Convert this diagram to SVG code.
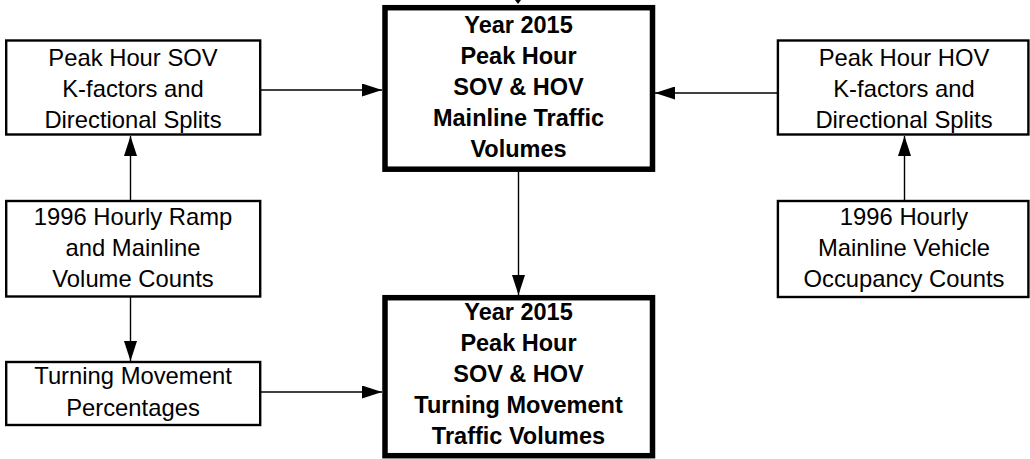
<svg xmlns="http://www.w3.org/2000/svg" width="1030" height="459" viewBox="0 0 1030 459">
<style>
.box{fill:#fff;stroke:#000;stroke-width:2.4}
.main{fill:#fff;stroke:#000;stroke-width:5.5}
.t{font-family:"Liberation Sans",Arial,sans-serif;font-size:23.8px;fill:#000;text-anchor:middle}
.b{font-family:"Liberation Sans",Arial,sans-serif;font-size:23.5px;font-weight:bold;fill:#000;text-anchor:middle}
.c{stroke:#000;stroke-width:1.4;fill:none}
</style>
<defs>
<marker id="ah" markerWidth="20" markerHeight="13" refX="20" refY="6.5" orient="auto" markerUnits="userSpaceOnUse">
<path d="M0,0 L20,6.5 L0,13 Z" fill="#000"/>
</marker>
</defs>
<g id="connectors">
<path d="M515,0 L521,0 L518,4 Z" fill="#000"/>
<line class="c" x1="261" y1="90" x2="382" y2="90" marker-end="url(#ah)"/>
<line class="c" x1="777" y1="93" x2="655" y2="93" marker-end="url(#ah)"/>
<line class="c" x1="130.5" y1="200" x2="130.5" y2="136" marker-end="url(#ah)"/>
<line class="c" x1="904.5" y1="200" x2="904.5" y2="136" marker-end="url(#ah)"/>
<line class="c" x1="518.5" y1="172" x2="518.5" y2="295" marker-end="url(#ah)"/>
<line class="c" x1="130.5" y1="297" x2="130.5" y2="361" marker-end="url(#ah)"/>
<line class="c" x1="261" y1="392" x2="382" y2="392" marker-end="url(#ah)"/>
</g>
<g id="sov-kfactors">
<rect class="box" x="6.2" y="40.5" width="254" height="94"/>
<text class="t" x="133" y="65.5">Peak Hour SOV</text>
<text class="t" x="133" y="96.5">K-factors and</text>
<text class="t" x="133" y="127.5">Directional Splits</text>
</g>
<g id="mainline-volumes">
<rect class="main" x="385" y="7.7" width="267.5" height="161.5"/>
<text class="b" x="518.5" y="32.5">Year 2015</text>
<text class="b" x="518.5" y="63.5">Peak Hour</text>
<text class="b" x="518.5" y="94.5">SOV &amp; HOV</text>
<text class="b" x="518.5" y="125.5">Mainline Traffic</text>
<text class="b" x="518.5" y="156.5">Volumes</text>
</g>
<g id="hov-kfactors">
<rect class="box" x="777.9" y="40.5" width="250.5" height="94"/>
<text class="t" x="904" y="65.5">Peak Hour HOV</text>
<text class="t" x="904" y="96.5">K-factors and</text>
<text class="t" x="904" y="127.5">Directional Splits</text>
</g>
<g id="ramp-counts">
<rect class="box" x="6.2" y="201" width="254" height="95.5"/>
<text class="t" x="133" y="224.5">1996 Hourly Ramp</text>
<text class="t" x="133" y="255.5">and Mainline</text>
<text class="t" x="133" y="286.5">Volume Counts</text>
</g>
<g id="occupancy-counts">
<rect class="box" x="777.9" y="201" width="250.5" height="96"/>
<text class="t" x="904" y="225">1996 Hourly</text>
<text class="t" x="904" y="256">Mainline Vehicle</text>
<text class="t" x="904" y="287">Occupancy Counts</text>
</g>
<g id="turning-percentages">
<rect class="box" x="6.2" y="362" width="254" height="63"/>
<text class="t" x="133" y="383.5">Turning Movement</text>
<text class="t" x="133" y="415.5">Percentages</text>
</g>
<g id="turning-volumes">
<rect class="main" x="385" y="297.7" width="267.5" height="158"/>
<text class="b" x="518.5" y="319.5">Year 2015</text>
<text class="b" x="518.5" y="350.5">Peak Hour</text>
<text class="b" x="518.5" y="381.5">SOV &amp; HOV</text>
<text class="b" x="518.5" y="412.5">Turning Movement</text>
<text class="b" x="518.5" y="443.5">Traffic Volumes</text>
</g>
</svg>
